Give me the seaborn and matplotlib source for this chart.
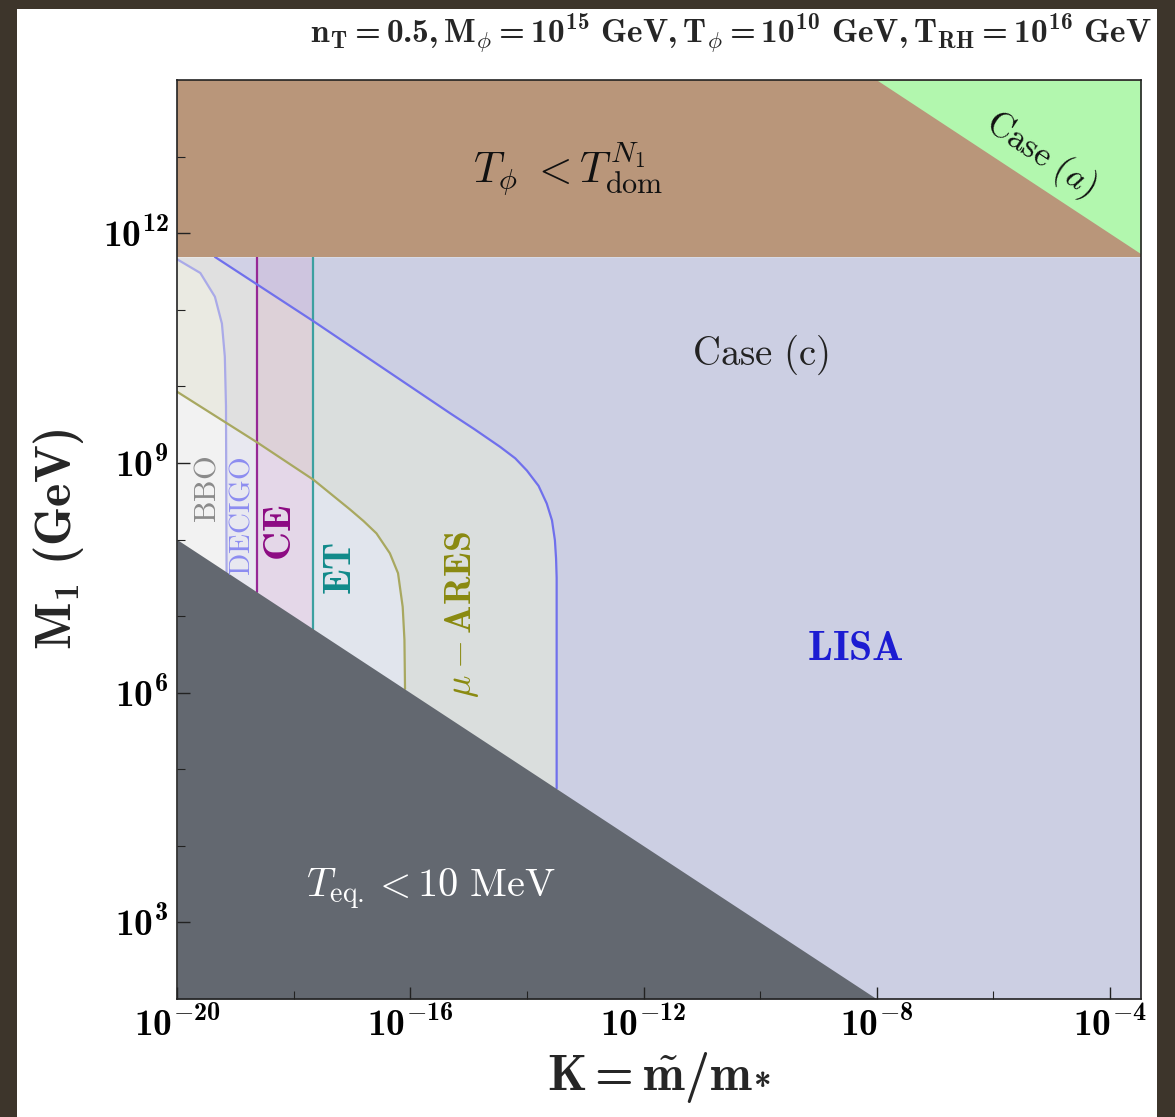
import numpy as np
import matplotlib
matplotlib.use("Agg")
import matplotlib.pyplot as plt
from matplotlib.patches import Rectangle
import seaborn as sns

sns.set_theme(style="ticks")
plt.rcParams["mathtext.fontset"] = "custom"
plt.rcParams["mathtext.rm"] = "cmr10"
plt.rcParams["mathtext.it"] = "cmmi10"
plt.rcParams["mathtext.bf"] = "cmb10"
plt.rcParams["mathtext.cal"] = "cmsy10"
plt.rcParams["mathtext.fallback"] = "cm"
plt.rcParams["font.family"] = ["DejaVu Serif"]

# ---- data (log10 K, log10 M1) ----
K_LIM = (-20.0, -3.47)
M_LIM = (2.0, 14.0)

dom_M = 11.69                      # T_phi < T_dom^{N1} above this mass
caseA_K = [-8.0, -3.47]            # edge of the case (a) corner
caseA_M = [14.0, 11.73]
teq_K = [-20.0, -8.0]              # T_eq < 10 MeV boundary
teq_M = [8.0, 2.0]

lisa_K = [-19.35, -17.66, -15.32, -14.9, -14.46, -14.2, -14.0, -13.8, -13.66,
          -13.57, -13.52, -13.5, -13.49, -13.49]
lisa_M = [11.69, 10.85, 9.65, 9.44, 9.21, 9.06, 8.9, 8.7, 8.47,
          8.25, 7.99, 7.75, 7.5, 4.75]

mu_K = [-20.0, -18.63, -17.66, -17.03, -16.8, -16.58, -16.35, -16.21, -16.13, -16.1, -16.09]
mu_M = [9.93, 9.27, 8.78, 8.39, 8.24, 8.08, 7.82, 7.56, 7.12, 6.69, 6.05]

decigo_K = [-20.0, -19.6, -19.35, -19.23, -19.18, -19.16, -19.15]
decigo_M = [11.66, 11.48, 11.17, 10.82, 10.39, 9.74, 7.57]

ce_K = [-18.63, -18.63]
ce_M = [11.69, 7.32]
et_K = [-17.66, -17.66]
et_M = [11.69, 6.83]

bbo_K = [-20.0, -20.0]
bbo_M = [11.69, 8.0]

# name, boundary K, boundary M, right edge of band, line colour, fill colour, alpha
detectors = [
    ("BBO", bbo_K, bbo_M, None, None, "#808080", 0.10),
    ("DECIGO", decigo_K, decigo_M, None, "#aaaae8", "#7575d9", 0.08),
    ("CE", ce_K, ce_M, et_K[0], "#962896", "#c846aa", 0.10),
    ("ET", et_K, et_M, None, "#3ca0a0", "#96c8d2", 0.08),
    ("muARES", mu_K, mu_M, None, "#a8a860", "#8c8c28", 0.08),
    ("LISA", lisa_K, lisa_M, None, "#7070ec", "#9696ff", 0.20),
]

W, H = 1175, 1117
fig = plt.figure(figsize=(W / 100, H / 100), dpi=100)
fig.patch.set_facecolor("#3d352b")
fig.patches.append(Rectangle((17 / W, 0), (1157 - 17) / W, (H - 9) / H,
                             transform=fig.transFigure, facecolor="white",
                             edgecolor="none", zorder=-10))

ax = fig.add_axes([177 / W, 1 - 999 / H, (1141 - 177) / W, (999 - 80) / H])
ax.set_xscale("log")
ax.set_yscale("log")
ax.set_xlim(10 ** K_LIM[0], 10 ** K_LIM[1])
ax.set_ylim(10 ** M_LIM[0], 10 ** M_LIM[1])
ax.set_facecolor("white")
ax.set_axisbelow(False)

p = lambda v: 10.0 ** np.asarray(v, dtype=float)

# detectable regions: to the right of each boundary
for name, k, m, kr, lc, fc, a in detectors:
    if m[0] < dom_M:
        k_f = [K_LIM[0]] + list(k) + [k[-1]]
        m_f = [dom_M] + list(m) + [M_LIM[0]]
    else:
        k_f = list(k) + [k[-1]]
        m_f = list(m) + [M_LIM[0]]
    right = 10 ** (K_LIM[1] if kr is None else kr)
    ax.fill_betweenx(p(m_f), p(k_f), right, color=fc, alpha=a, lw=0, zorder=0.5)
    if lc is not None:
        sns.lineplot(x=p(k), y=p(m), sort=False, estimator=None, color=lc,
                     lw=1.6, ax=ax, zorder=0.8)

# excluded regions
ax.fill_between(p(teq_K), 10 ** M_LIM[0], p(teq_M), color="#636870", lw=0, zorder=1)
ax.fill_between(p(K_LIM), 10 ** dom_M, 10 ** M_LIM[1], color="#b9967a", lw=0, zorder=1)
ax.fill_between(p(caseA_K), p(caseA_M), 10 ** M_LIM[1], color="#b2f7ae", lw=0, zorder=1)

# labels
def lab(k, m, s, **kw):
    ax.text(10 ** k, 10 ** m, s, ha="center", va="center", zorder=5,
            math_fontfamily="cm", **kw)

lab(-13.3, 12.83, r"$T_\phi\ < T^{N_1}_{\rm dom}$", fontsize=31, color="#111111")
lab(-5.2, 13.02, r"$\mathrm{Case}\ (a)$", fontsize=25, color="#111111", rotation=-33.6)
lab(-10.0, 10.41, r"$\mathrm{Case\ (c)}$", fontsize=28, color="#222222")
lab(-8.37, 6.58, r"$\mathbf{LISA}$", fontsize=30, color="#1c1cd2")
lab(-15.65, 3.43, r"$T_{\rm eq.} < 10\ \mathrm{MeV}$", fontsize=29, color="white")
lab(-19.49, 8.65, r"$\mathrm{BBO}$", fontsize=22, color="#8a8a8a", rotation=90)
lab(-18.89, 8.31, r"$\mathrm{DECIGO}$", fontsize=21, color="#8c8cf0", rotation=90)
lab(-18.23, 8.09, r"$\mathbf{CE}$", fontsize=29, color="#8c0a82", rotation=90)
lab(-17.2, 7.62, r"$\mathbf{ET}$", fontsize=28, color="#108a8a", rotation=90)
lab(-15.12, 7.02, r"$\mu-\mathbf{ARES}$", fontsize=27, color="#8a8a10", rotation=90)

# ticks
xt = [-20, -16, -12, -8, -4]
yt = [3, 6, 9, 12]
ax.set_xticks(p(xt))
ax.set_xticklabels([r"$\mathbf{10^{%d}}$" % v for v in xt])
ax.set_xticks(p(np.arange(-18, -3, 4)), minor=True)
ax.set_yticks(p(yt))
ax.set_yticklabels([r"$\mathbf{10^{%d}}$" % v for v in yt])
ax.set_yticks(p([v for v in range(3, 14) if v not in yt]), minor=True)
ax.xaxis.set_minor_formatter(matplotlib.ticker.NullFormatter())
ax.yaxis.set_minor_formatter(matplotlib.ticker.NullFormatter())
ax.tick_params(which="both", direction="in", top=False, right=False,
               colors="#222222", labelcolor="black")
ax.tick_params(which="major", length=9, width=1.0, labelsize=27, pad=6)
ax.tick_params(which="minor", length=6, width=0.8)
for s in ax.spines.values():
    s.set_color("#222222")
    s.set_linewidth(1.2)
    s.set_zorder(6)

ax.set_xlabel(r"$\mathbf{K=\tilde{m}/m_{*}}$", fontsize=36, labelpad=4)
ax.set_ylabel(r"$\mathbf{M_1\ (GeV)}$", fontsize=36, labelpad=12)
fig.text(731 / W, 1 - 33 / H,
         r"$\mathbf{n_T=0.5, M_\phi=10^{15}\ GeV, T_\phi=10^{10}\ GeV, T_{RH}=10^{16}\ GeV}$",
         ha="center", va="center", fontsize=24)

fig.savefig("out.png", dpi=100, facecolor=fig.get_facecolor())
